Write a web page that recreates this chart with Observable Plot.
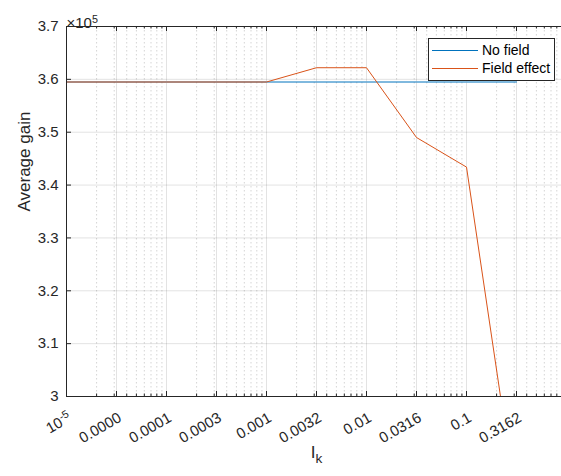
<!DOCTYPE html>
<html><head><meta charset="utf-8">
<script src="https://cdn.jsdelivr.net/npm/d3@7"></script>
<script src="https://cdn.jsdelivr.net/npm/@observablehq/plot@0.6"></script>
<style>
html,body{margin:0;padding:0;overflow:hidden;background:#fff;}
#wrap{position:relative;width:561px;height:476px;overflow:hidden;font-family:"Liberation Sans",Arial,Helvetica,sans-serif;}
#wrap svg{max-width:none !important;}
.lg-box{position:absolute;left:428px;top:38px;width:125px;height:41px;border:1px solid #262626;background:#fff;}
.lg-line{position:absolute;left:432px;width:46px;height:1px;}
.lg-text{position:absolute;left:482px;font-size:14px;line-height:16px;color:#000;white-space:nowrap;}
</style></head>
<body><div id="wrap"></div>
<script>
// Data
const ik = [1e-5, 3.1623e-5, 1e-4, 3.1623e-4, 1e-3, 3.1623e-3, 1e-2, 3.1623e-2, 1e-1, 3.1623e-1];
const noField = [359500, 359500, 359500, 359500, 359500, 359500, 359500, 359500, 359500, 359500];
const fieldEffect = [359500, 359500, 359500, 359500, 359500, 362200, 362200, 349000, 343400, 279600];
const seriesNames = ["No field", "Field effect"];
const seriesColors = ["#0072BD", "#D95319"];
const xTickValues = [1e-5, 3.1623e-5, 1e-4, 3.1623e-4, 1e-3, 3.1623e-3, 1e-2, 3.1623e-2, 1e-1, 3.1623e-1];
const xTickLabels = ["10^-5", "0.0000", "0.0001", "0.0003", "0.001", "0.0032", "0.01", "0.0316", "0.1", "0.3162"];
const yTickValues = [300000, 310000, 320000, 330000, 340000, 350000, 360000, 370000];
const yTickLabels = ["3", "3.1", "3.2", "3.3", "3.4", "3.5", "3.6", "3.7"];

// minor log grid positions (2..9 × 10^k)
const minor = [];
for (let e = -5; e <= -1; e++) for (let m = 2; m <= 9; m++) minor.push(m * Math.pow(10, e));

const rows = ik.map((x, i) => ({x, a: noField[i], b: fieldEffect[i]}));
const axisColor = "#262626";
const W = 566, H = 476, ML = 66, MR = 0, MT = 26, MB = 80;
const FW = W - ML - MR, FH = H - MT - MB;

const chart = Plot.plot({
  width: W, height: H,
  marginLeft: ML, marginRight: MR, marginTop: MT, marginBottom: MB,
  style: {fontFamily: "'Liberation Sans', Arial, Helvetica, sans-serif", fontSize: "15px", color: axisColor, background: "#fff", maxWidth: "none"},
  x: {type: "log", domain: [1e-5, 1], axis: null},
  y: {domain: [300000, 370000], axis: null},
  marks: [
    // grid
    Plot.ruleX(minor, {stroke: axisColor, strokeOpacity: 0.2, strokeDasharray: "1.5,2.5"}),
    Plot.ruleX(xTickValues, {stroke: axisColor, strokeOpacity: 0.13}),
    Plot.ruleY(yTickValues, {stroke: axisColor, strokeOpacity: 0.13}),
    // series
    Plot.line(rows, {x: "x", y: "a", stroke: seriesColors[0], strokeWidth: 1, clip: true}),
    Plot.line(rows, {x: "x", y: "b", stroke: seriesColors[1], strokeWidth: 1, clip: true}),
    // box (left, bottom, top)
    Plot.ruleX([1e-5], {stroke: axisColor}),
    Plot.ruleY([300000, 370000], {stroke: axisColor}),
    // inward tick marks
    Plot.ruleX(xTickValues, {stroke: axisColor, insetTop: FH - 5}),
    Plot.ruleX(xTickValues, {stroke: axisColor, insetBottom: FH - 5}),
    Plot.ruleX(minor, {stroke: axisColor, insetTop: FH - 2.5}),
    Plot.ruleX(minor, {stroke: axisColor, insetBottom: FH - 2.5}),
    Plot.ruleY(yTickValues, {stroke: axisColor, insetRight: FW - 5}),
    // tick labels
    Plot.text(xTickValues, {x: d => d, frameAnchor: "bottom", text: d => xTickLabels[xTickValues.indexOf(d)],
      rotate: -30, textAnchor: "end", lineAnchor: "middle", dx: 3.5, dy: 20, fontSize: 15, fill: axisColor}),
    Plot.text(yTickValues, {y: d => d, frameAnchor: "left", text: d => yTickLabels[yTickValues.indexOf(d)],
      textAnchor: "end", dx: -8, fontSize: 15, fill: axisColor}),
    // exponent, axis titles
    Plot.text(["×10^5"], {frameAnchor: "top-left", dy: -9, textAnchor: "start", fontSize: 15, fill: axisColor}),
    Plot.text(["Average gain"], {frameAnchor: "left", dx: -42, rotate: -90, fontSize: 17, fill: axisColor}),
    Plot.text(["I_k"], {frameAnchor: "bottom", dy: 61, fontSize: 17, fill: axisColor})
  ]
});

// real superscripts / subscripts
d3.select(chart).selectAll("text").each(function() {
  const t = this.textContent;
  const sel = d3.select(this);
  if (t === "10^-5" || t === "×10^5") {
    const [base, exp] = t.split("^");
    sel.text(null);
    sel.append("tspan").text(base);
    sel.append("tspan").attr("dy", "-0.5em").attr("font-size", "0.72em").text(exp);
  } else if (t === "I_k") {
    sel.text(null);
    sel.append("tspan").text("I");
    sel.append("tspan").attr("dy", "0.4em").attr("font-size", "0.8em").text("k");
  }
});

const wrap = document.getElementById("wrap");
wrap.appendChild(chart);

// legend (inside plot area, top-right)
const box = document.createElement("div"); box.className = "lg-box"; wrap.appendChild(box);
[50, 68].forEach((top, i) => {
  const l = document.createElement("div"); l.className = "lg-line";
  l.style.top = top + "px"; l.style.background = seriesColors[i]; wrap.appendChild(l);
  const tx = document.createElement("div"); tx.className = "lg-text";
  tx.style.top = (top - 8) + "px"; tx.textContent = seriesNames[i]; wrap.appendChild(tx);
});
</script>
</body></html>
